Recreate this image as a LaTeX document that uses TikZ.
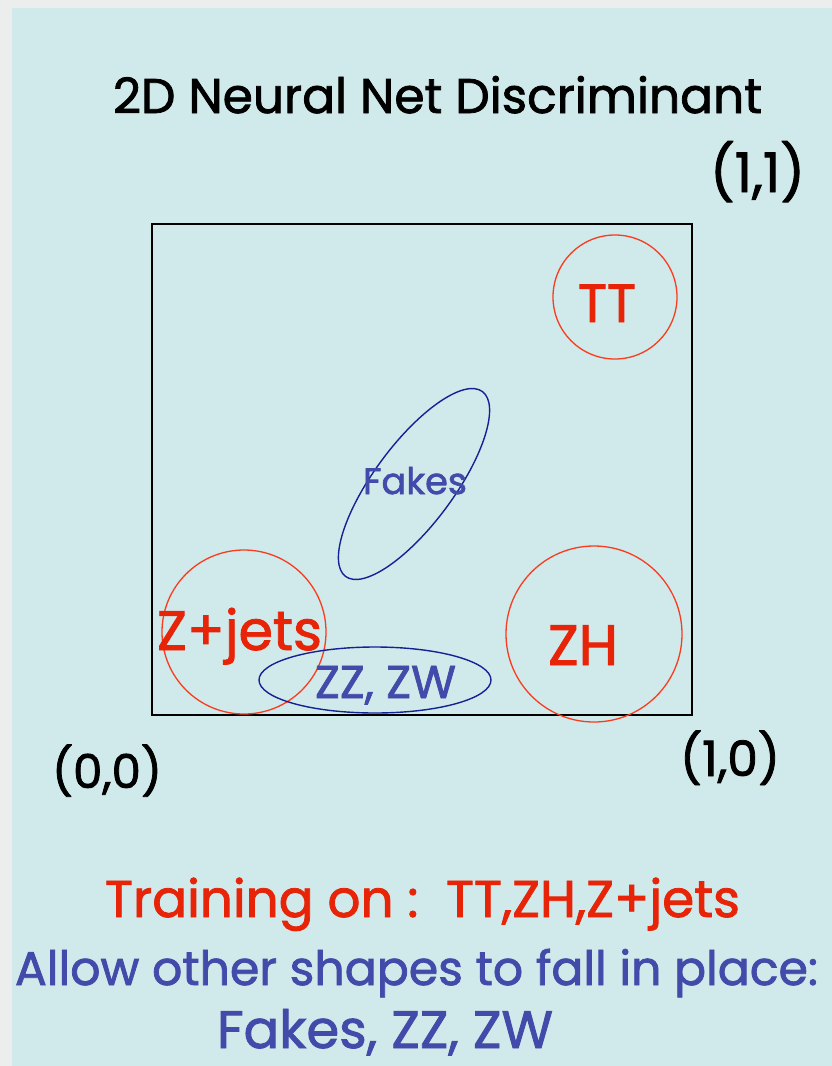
\documentclass[tikz,border=0pt]{standalone}
\usepackage{fontspec}
\setmainfont{Poppins}[FakeBold=1.6]
\usepackage{graphicx}
\usetikzlibrary{shapes.geometric}
\definecolor{bgc}{RGB}{208,233,234}
\definecolor{edgec}{RGB}{236,238,238}
\definecolor{redtxt}{RGB}{232,36,8}
\definecolor{redln}{RGB}{250,60,30}
\definecolor{bluetxt}{RGB}{66,74,170}
\definecolor{blueln}{RGB}{20,34,150}
\newcommand{\fitw}[2]{\resizebox{#1pt}{!}{#2}}
\tikzset{
  lbl/.style={inner sep=0pt, anchor=base},
  redring/.style={circle, draw=redln, line width=1.3pt, inner sep=0pt},
  bluering/.style={ellipse, draw=blueln, line width=1.4pt, inner sep=0pt},
}
\begin{document}
\begin{tikzpicture}[x=1pt,y=-1pt]
\useasboundingbox (0,0) rectangle (832,1066);
\fill[edgec] (0,0) rectangle (832,1066);
\fill[bgc] (12,8) rectangle (832,1066);
% title and corner labels
\node[lbl] (title) at (437.5,113) {\fitw{649}{2D Neural Net Discriminant}};
\node[lbl] (c11) at (757.5,192) {\fitw{95}{(1,1)}};
\node[lbl] (c00) at (107,788) {\fitw{110}{(0,0)}};
\node[lbl] (c10) at (730,776) {\fitw{100}{(1,0)}};
% frame
\draw[black, line width=1.1pt] (152,224) rectangle (692,715);
% shapes
\node[redring, minimum size=124pt] (ttc) at (615,297) {};
\node[redring, minimum size=164pt] (zjc) at (244,632) {};
\node[redring, minimum size=176pt] (zhc) at (594,634) {};
\node[bluering, minimum width=230pt, minimum height=80pt, rotate=53.5] (fkc) at (414,484) {};
\node[bluering, minimum width=232pt, minimum height=66pt] (zzc) at (375,680) {};
% labels in shapes
\node[lbl, text=redtxt] (tt) at (607,322) {\fitw{58}{TT}};
\node[lbl, text=redtxt] (zj) at (239.5,650) {\fitw{165}{Z+jets}};
\node[lbl, text=redtxt] (zh) at (583,665) {\fitw{70}{ZH}};
\node[lbl, text=bluetxt] (fk) at (415,494) {\fitw{104}{Fakes}};
\node[lbl, text=bluetxt] (zz) at (385.5,698) {\fitw{141}{ZZ, ZW}};
% bottom text
\node[lbl, text=redtxt] (train) at (422.5,917) {\fitw{635}{Training on :\ \ TT,ZH,Z+jets}};
\node[lbl, text=bluetxt] (allow) at (416.5,985) {\fitw{803}{Allow other shapes to fall in place:}};
\node[lbl, text=bluetxt] (fzz) at (385,1048) {\fitw{336}{Fakes, ZZ, ZW}};
\end{tikzpicture}
\end{document}
